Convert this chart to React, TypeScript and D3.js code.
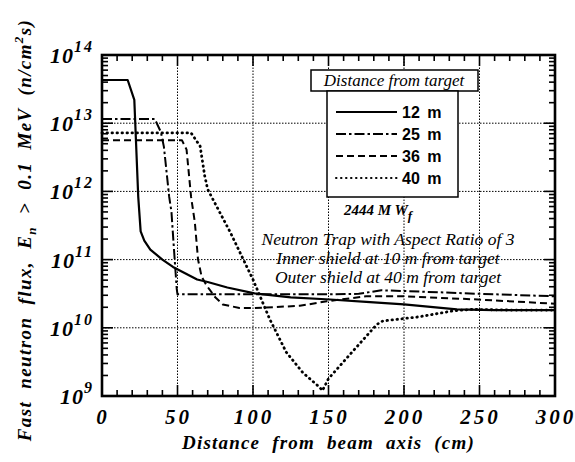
import React, { useEffect, useRef } from 'react';
import * as d3 from 'd3';

const width = 575;
const height = 462;
const margin = { top: 55, right: 20, bottom: 66, left: 102 };

const xTicks = [0, 50, 100, 150, 200, 250, 300];
const yExponents = [9, 10, 11, 12, 13, 14];
const seriesNames = ['12 m', '25 m', '36 m', '40 m'];

// distance from beam axis (cm) / fast neutron flux (n/cm^2 s)
const dist12 = [0, 17, 21.4, 24, 25.6, 28, 32, 40, 47, 55, 63, 70, 83, 101, 125, 151, 175, 200, 235, 260, 300];
const flux12 = [4.3e13, 4.3e13, 2.2e13, 8.3e11, 2.6e11, 1.9e11, 1.4e11, 1.0e11, 7.8e10, 6.3e10, 5.1e10, 4.7e10, 3.9e10, 3.2e10, 2.8e10, 2.6e10, 2.4e10, 2.2e10, 1.86e10, 1.82e10, 1.82e10];

const dist25 = [0, 35, 39, 41, 44.5, 46, 47.5, 49.5, 50, 100, 150, 170, 185, 210, 250, 300];
const flux25 = [1.15e13, 1.15e13, 7.4e12, 4.5e12, 8.3e11, 5e11, 1.6e11, 3.7e10, 3.1e10, 3.1e10, 3.1e10, 3.15e10, 3.55e10, 3.4e10, 3.15e10, 2.9e10];

const dist36 = [0, 53, 56, 59, 61.5, 63.6, 66, 69.5, 75, 80, 91, 101, 131, 149, 175, 199, 249, 300];
const flux36 = [5.6e12, 5.6e12, 4.1e12, 8.3e11, 3.5e11, 1e11, 5.6e10, 4.1e10, 2.8e10, 2.2e10, 1.95e10, 1.95e10, 2.1e10, 2.45e10, 2.9e10, 2.9e10, 2.6e10, 2.25e10];

const dist40 = [0, 59, 65, 68, 70, 85, 100, 111, 122, 133, 144, 146, 150, 166, 182, 186, 210, 233, 245, 270, 300];
const flux40 = [7.2e12, 7.2e12, 4.6e12, 1.7e12, 1.07e12, 2.5e11, 5.1e10, 1.35e10, 4.4e9, 2.2e9, 1.35e9, 1.2e9, 1.8e9, 4.5e9, 1.12e10, 1.26e10, 1.45e10, 1.78e10, 1.86e10, 1.82e10, 1.82e10];

const notes = [
  'Neutron Trap with Aspect Ratio of 3',
  'Inner shield at 10 m from target',
  'Outer shield at 40 m from target',
];

const serif = "'Liberation Serif', serif";
const sans = "'Liberation Sans', sans-serif";

const App = () => {
  const ref = useRef(null);

  useEffect(() => {
    d3.select(ref.current).select('svg').remove();

    const svg = d3.select(ref.current)
      .append('svg')
      .attr('width', width)
      .attr('height', height)
      .style('position', 'absolute')
      .style('left', 0)
      .style('top', 0)
      .style('background', '#fff');

    const x = d3.scaleLinear().domain([0, 300]).range([margin.left, width - margin.right]);
    const y = d3.scaleLog().domain([1e9, 1e14]).range([height - margin.bottom, margin.top]);
    const [x0, x1] = x.range();
    const [y0, y1] = y.range();

    // grid
    const grid = svg.append('g')
      .attr('stroke', '#000')
      .attr('stroke-width', 1)
      .attr('stroke-dasharray', '1.5,1.5');
    xTicks.slice(1, -1).forEach(t => {
      grid.append('line').attr('x1', x(t)).attr('x2', x(t)).attr('y1', y0).attr('y2', y1);
    });
    yExponents.slice(1, -1).forEach(e => {
      grid.append('line').attr('x1', x0).attr('x2', x1).attr('y1', y(10 ** e)).attr('y2', y(10 ** e));
    });

    // ticks
    const ticks = svg.append('g').attr('stroke', '#000').attr('stroke-width', 1.6);
    d3.range(0, 301, 10).forEach(t => {
      const len = t % 50 === 0 ? 11 : 6;
      ticks.append('line').attr('x1', x(t)).attr('x2', x(t)).attr('y1', y0).attr('y2', y0 - len);
      ticks.append('line').attr('x1', x(t)).attr('x2', x(t)).attr('y1', y1).attr('y2', y1 + len);
    });
    yExponents.slice(0, -1).forEach(e => {
      d3.range(1, 10).forEach(m => {
        const v = m * 10 ** e;
        const len = m === 1 ? 11 : 6;
        ticks.append('line').attr('x1', x0).attr('x2', x0 + len).attr('y1', y(v)).attr('y2', y(v));
        ticks.append('line').attr('x1', x1).attr('x2', x1 - len).attr('y1', y(v)).attr('y2', y(v));
      });
    });

    // series
    const series = [
      { d: dist12, f: flux12, dash: null, w: 2.2, cap: 'butt' },
      { d: dist25, f: flux25, dash: '10,3,2.5,3', w: 2, cap: 'butt' },
      { d: dist36, f: flux36, dash: '7,4', w: 2, cap: 'butt' },
      { d: dist40, f: flux40, dash: '0.5,4.5', w: 2.8, cap: 'round' },
    ];
    const line = d3.line().x(p => x(p[0])).y(p => y(p[1]));
    series.forEach(s => {
      svg.append('path')
        .attr('d', line(s.d.map((v, i) => [v, s.f[i]])))
        .attr('fill', 'none')
        .attr('stroke', '#000')
        .attr('stroke-width', s.w)
        .attr('stroke-linecap', s.cap)
        .attr('stroke-linejoin', 'round')
        .attr('stroke-dasharray', s.dash);
    });

    // frame
    svg.append('rect')
      .attr('x', x0).attr('y', y1)
      .attr('width', x1 - x0).attr('height', y0 - y1)
      .attr('fill', 'none').attr('stroke', '#000').attr('stroke-width', 2.6);

    const boldItalic = sel => sel
      .attr('font-family', serif)
      .attr('font-weight', 'bold')
      .attr('font-style', 'italic');

    // x tick labels
    xTicks.forEach(t => {
      svg.append('text')
        .attr('x', x(t) + 1)
        .attr('y', y0 + 28)
        .attr('text-anchor', 'middle')
        .attr('font-size', 21)
        .attr('letter-spacing', 3)
        .call(boldItalic)
        .text(t);
    });

    // y tick labels
    yExponents.forEach(e => {
      const t = svg.append('text')
        .attr('x', x0 - 8)
        .attr('y', y(10 ** e) + 8)
        .attr('text-anchor', 'end')
        .attr('font-size', 22)
        .call(boldItalic);
      t.append('tspan').attr('letter-spacing', 1).text('10');
      t.append('tspan').attr('dy', -11).attr('font-size', 16).attr('letter-spacing', 2).text(e);
    });

    // axis titles
    svg.append('text')
      .attr('x', (x0 + x1) / 2)
      .attr('y', 449)
      .attr('text-anchor', 'middle')
      .attr('font-size', 19)
      .attr('letter-spacing', 1.2)
      .attr('word-spacing', 6)
      .call(boldItalic)
      .text('Distance from beam axis (cm)');

    const yt = svg.append('text')
      .attr('transform', 'translate(31,230) rotate(-90)')
      .attr('text-anchor', 'middle')
      .attr('font-size', 19)
      .attr('letter-spacing', 1.4)
      .attr('word-spacing', 6)
      .call(boldItalic);
    yt.append('tspan').text('Fast neutron flux, E');
    yt.append('tspan').attr('dy', 5).attr('font-size', 13).text('n');
    yt.append('tspan').attr('dy', -5).text(' > 0.1 MeV (n/cm');
    yt.append('tspan').attr('dy', -8).attr('font-size', 13).text('2');
    yt.append('tspan').attr('dy', 8).text('s)');

    // legend
    const lg = svg.append('g');
    lg.append('rect').attr('x', 311).attr('y', 70).attr('width', 167).attr('height', 21)
      .attr('fill', '#fff').attr('stroke', '#000').attr('stroke-width', 1.5);
    lg.append('text').attr('x', 394).attr('y', 86).attr('text-anchor', 'middle')
      .attr('font-family', serif).attr('font-style', 'italic').attr('font-size', 17)
      .text('Distance from target');
    lg.append('rect').attr('x', 327).attr('y', 91).attr('width', 131).attr('height', 106)
      .attr('fill', '#fff').attr('stroke', '#000').attr('stroke-width', 1.5);
    seriesNames.forEach((name, i) => {
      const s = series[i];
      const ly = 112 + i * 22;
      lg.append('line').attr('x1', 336).attr('x2', 397).attr('y1', ly).attr('y2', ly)
        .attr('stroke', '#000')
        .attr('stroke-width', i === 3 ? 2 : 1.8)
        .attr('stroke-linecap', s.cap)
        .attr('stroke-dasharray', s.dash);
      lg.append('text').attr('x', 402).attr('y', ly + 6)
        .attr('font-family', sans).attr('font-weight', 'bold').attr('font-size', 16)
        .attr('word-spacing', 3)
        .text(name);
    });

    // annotations
    const pw = svg.append('text').attr('x', 378).attr('y', 215).attr('text-anchor', 'middle')
      .attr('font-size', 15)
      .call(boldItalic);
    pw.append('tspan').text('2444 M W');
    pw.append('tspan').attr('dy', 5).attr('font-size', 13).text('f');

    notes.forEach((n, i) => {
      svg.append('text')
        .attr('x', 388)
        .attr('y', 245 + i * 19)
        .attr('text-anchor', 'middle')
        .attr('font-family', serif)
        .attr('font-style', 'italic')
        .attr('font-size', 17.5)
        .text(n);
    });
  }, []);

  return <div ref={ref}></div>;
};

export default App;
